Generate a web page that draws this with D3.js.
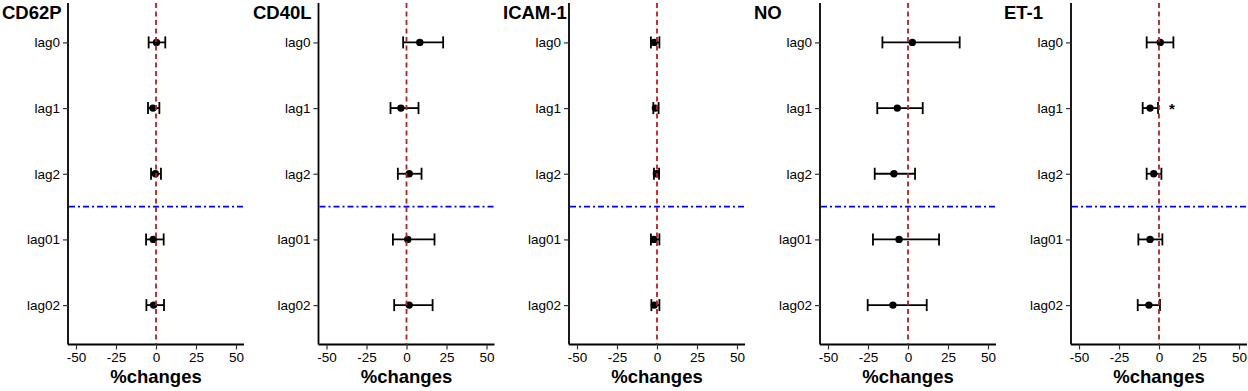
<!DOCTYPE html>
<html><head><meta charset="utf-8">
<script src="https://cdn.jsdelivr.net/npm/d3@7"></script>
<style>body{margin:0;background:#fff;} svg{display:block;font-family:"Liberation Sans",Arial,sans-serif;}</style>
</head><body>
<script>
const lags = ["lag0","lag1","lag2","lag01","lag02"];
const xTicks = [-50,-25,0,25,50];
const panels = ["CD62P","CD40L","ICAM-1","NO","ET-1"];
// estimate, lower, upper per lag
const est_CD62P = [0.3,-1.9,-0.4,-1.7,-1.5];
const lo_CD62P  = [-4.6,-5.0,-3.1,-6.2,-6.0];
const hi_CD62P  = [5.8,2.1,3.1,4.8,5.0];
const est_CD40L = [8.3,-3.5,1.7,0.8,1.7];
const lo_CD40L  = [-2.1,-10.0,-5.4,-8.5,-7.7];
const hi_CD40L  = [22.9,7.5,9.4,17.5,16.3];
const est_ICAM1 = [-1.7,-1.0,-0.4,-1.9,-1.7];
const lo_ICAM1  = [-3.8,-2.3,-1.9,-3.8,-3.5];
const hi_ICAM1  = [1.5,1.0,1.3,1.5,1.5];
const est_NO = [2.7,-6.7,-8.8,-5.6,-9.4];
const lo_NO  = [-16.0,-19.2,-20.8,-21.9,-25.2];
const hi_NO  = [32.3,9.2,4.4,19.4,11.7];
const est_ET1 = [0.8,-5.6,-3.3,-5.6,-6.3];
const lo_ET1  = [-7.7,-10.2,-7.7,-12.9,-13.3];
const hi_ET1  = [9.0,-0.6,1.5,2.1,0.6];
const significant = [["ET-1","lag1"]];

const series = [
  [est_CD62P,lo_CD62P,hi_CD62P],
  [est_CD40L,lo_CD40L,hi_CD40L],
  [est_ICAM1,lo_ICAM1,hi_ICAM1],
  [est_NO,lo_NO,hi_NO],
  [est_ET1,lo_ET1,hi_ET1]
];

const W=1248,H=391;
const svg=d3.select("body").append("svg").attr("width",W).attr("height",H);
const axisLeft=[68,318.5,569,820,1071];
const titleX=[2,253,503,754,1004];
const plotW=176, yTop=3, yBottom=344.5;
const y=d3.scalePoint().domain(lags).range([yTop,yBottom]).padding(0.6);
panels.forEach((name,i)=>{
  const [est,lo,hi]=series[i];
  const x=d3.scaleLinear().domain([-55,55]).range([axisLeft[i],axisLeft[i]+plotW]);
  const g=svg.append("g");
  // x axis
  const xa=g.append("g").attr("transform",`translate(0,${yBottom})`)
    .call(d3.axisBottom(x).tickValues(xTicks).tickSize(5).tickPadding(3).tickFormat(d=>d<0?"-"+Math.abs(d):String(d)));
  xa.select(".domain").attr("stroke","#000").attr("stroke-width",1.8).attr("d",`M${axisLeft[i]},0H${axisLeft[i]+plotW}`);
  xa.selectAll(".tick line").attr("stroke","#333").attr("stroke-width",1.2);
  xa.selectAll(".tick text").attr("font-size",13.5).attr("fill","#000").attr("font-family","Liberation Sans, Arial, sans-serif");
  // y axis
  const ya=g.append("g").attr("transform",`translate(${axisLeft[i]},0)`)
    .call(d3.axisLeft(y).tickSize(5).tickPadding(3));
  ya.select(".domain").attr("stroke","#000").attr("stroke-width",1.8).attr("d",`M0,${yTop}V${yBottom}`);
  ya.selectAll(".tick line").attr("stroke","#333").attr("stroke-width",1.2);
  ya.selectAll(".tick text").attr("font-size",13.5).attr("fill","#000").attr("font-family","Liberation Sans, Arial, sans-serif");
  // blue dash-dot separator between lag2 and lag01
  const ySep=(y("lag2")+y("lag01"))/2;
  g.append("line").attr("x1",axisLeft[i]+1).attr("x2",axisLeft[i]+plotW).attr("y1",ySep).attr("y2",ySep)
    .attr("stroke","#0000FF").attr("stroke-width",1.6).attr("stroke-dasharray","6,3,2,3");
  // error bars
  lags.forEach((l,j)=>{
    const yy=y(l);
    g.append("line").attr("x1",x(lo[j])).attr("x2",x(hi[j])).attr("y1",yy).attr("y2",yy).attr("stroke","#000").attr("stroke-width",1.8);
    [lo[j],hi[j]].forEach(v=>g.append("line").attr("x1",x(v)).attr("x2",x(v)).attr("y1",yy-6).attr("y2",yy+6).attr("stroke","#000").attr("stroke-width",1.8));
    g.append("circle").attr("cx",x(est[j])).attr("cy",yy).attr("r",3.7).attr("fill","#000");
  });
  // red dashed zero line on top
  g.append("line").attr("x1",x(0)).attr("x2",x(0)).attr("y1",yTop).attr("y2",yBottom)
    .attr("stroke","#B22222").attr("stroke-width",1.8).attr("stroke-dasharray","5,3.5");
  // significance
  significant.filter(s=>s[0]===name).forEach(s=>{
    g.append("text").attr("x",x(8)).attr("y",y(s[1])+6).attr("text-anchor","middle").attr("font-size",15).attr("font-weight","bold").text("*");
  });
  // title
  g.append("text").attr("x",titleX[i]).attr("y",18.5).attr("font-size",18.5).attr("font-weight","bold").text(name);
  // x label
  g.append("text").attr("x",x(0)).attr("y",383).attr("text-anchor","middle").attr("font-size",18.5).attr("font-weight","bold").text("%changes");
});
</script>
</body></html>
